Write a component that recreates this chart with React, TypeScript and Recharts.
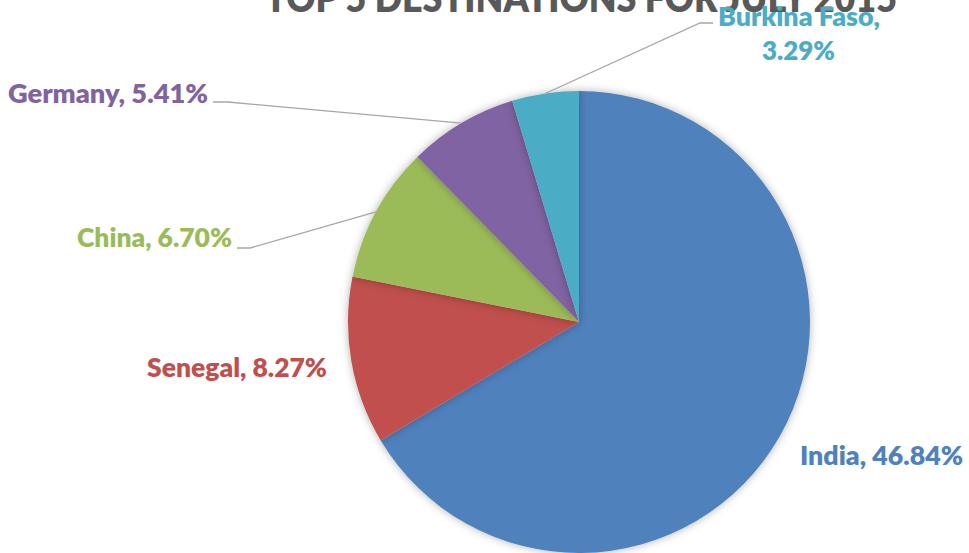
import { PieChart, Pie, Cell } from 'recharts';

const countries = ['India', 'Senegal', 'China', 'Germany', 'Burkina Faso'];
const shares = [46.84, 8.27, 6.7, 5.41, 3.29];
const colors = ['#4F81BD', '#C0504D', '#9BBB59', '#8064A2', '#4BACC6'];

// label placement relative to pie centre (Excel-style manual placement)
// rows: [dx, dy(baseline), width]; leader: [elbowX, elbowY, endX]
const labelLayout = [
  { rows: [[221, 143, 163]], leader: null },
  { rows: [[-432, 55, 180]], leader: null },
  { rows: [[-502, -75, 155]], leader: [-329, -74, -342] },
  { rows: [[-571, -219, 200]], leader: [-351, -220, -366] },
  { rows: [[139, -296, 162], [183, -262, 73]], leader: [121, -299, 134] },
];

const data = countries.map((name, i) => ({ name, value: shares[i] }));

const RAD = Math.PI / 180;
const FONT = 'Lato, "Open Sans", sans-serif';

const renderLabel = (props: any) => {
  const { cx, cy, midAngle, outerRadius, index, name, value } = props;
  const lay = labelLayout[index];
  const color = colors[index];
  const pct = `${Number(value).toFixed(2)}%`;
  const texts = lay.rows.length > 1 ? [`${name},`, pct] : [`${name}, ${pct}`];
  let line = null;
  if (lay.leader) {
    const ex = cx + outerRadius * Math.cos(-midAngle * RAD);
    const ey = cy + outerRadius * Math.sin(-midAngle * RAD);
    const [bx, by, tx] = lay.leader;
    line = (
      <polyline
        points={`${ex},${ey} ${cx + bx},${cy + by} ${cx + tx},${cy + by}`}
        fill="none"
        stroke="#a6a6a6"
        strokeWidth={1.3}
      />
    );
  }
  return (
    <g>
      {line}
      {lay.rows.map(([dx, dy, w], i) => (
        <text
          key={i}
          x={cx + dx}
          y={cy + dy}
          textAnchor="start"
          textLength={w}
          lengthAdjust="spacingAndGlyphs"
          fill={color}
          style={{ fontFamily: FONT, fontWeight: 800, fontSize: 27 }}
        >
          {texts[i]}
        </text>
      ))}
    </g>
  );
};

export default function App() {
  return (
    <div style={{ position: 'absolute', left: 0, top: 0, width: 969, height: 553, background: '#fff', overflow: 'hidden' }}>
      <svg width={969} height={553} style={{ position: 'absolute', left: 0, top: 0 }}>
        <text
          x={581}
          y={12}
          textAnchor="middle"
          textLength={632}
          lengthAdjust="spacingAndGlyphs"
          fill="#595959"
          style={{ fontFamily: FONT, fontWeight: 800, fontSize: 40 }}
        >
          TOP 5 DESTINATIONS FOR JULY 2015
        </text>
      </svg>
      <div style={{ position: 'absolute', left: 0, top: 0 }}>
        <PieChart width={969} height={553} margin={{ top: 0, right: 0, bottom: 0, left: 0 }}>
          <defs>
            <filter id="pieShadow" x="-10%" y="-10%" width="120%" height="120%">
              <feDropShadow dx="0" dy="0" stdDeviation="4" floodColor="#000" floodOpacity="0.3" />
            </filter>
          </defs>
          <Pie
            data={data}
            dataKey="value"
            nameKey="name"
            cx={579}
            cy={322}
            outerRadius={231}
            startAngle={90}
            endAngle={-270}
            stroke="none"
            label={renderLabel}
            labelLine={false}
            isAnimationActive={false}
            style={{ filter: 'url(#pieShadow)' }}
          >
            {data.map((d, i) => (
              <Cell key={d.name} fill={colors[i]} />
            ))}
          </Pie>
        </PieChart>
      </div>
    </div>
  );
}
